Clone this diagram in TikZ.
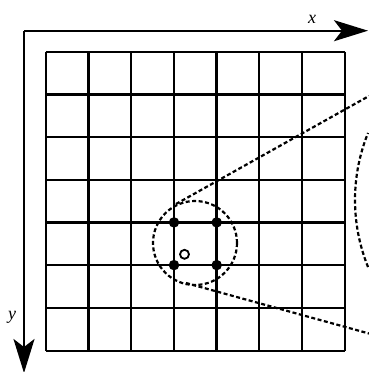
\documentclass[tikz,border=0pt]{standalone}
\usepackage{fontspec}
\setmainfont{Liberation Serif}
\usetikzlibrary{arrows.meta}
\begin{document}
\begin{tikzpicture}[x=1pt,y=-1pt,
  gridline/.style={line width=2.2pt},
  axis/.style={line width=2.2pt,-{Stealth[length=34pt,width=21pt,inset=8pt]}},
  dashline/.style={line width=2.2pt,dash pattern=on 4pt off 2.5pt},
  dot/.style={circle,fill=black,inner sep=0pt,minimum size=10.5pt},
  hole/.style={circle,draw=black,line width=1.8pt,fill=white,inner sep=0pt,minimum size=9pt},
  lbl/.style={font=\itshape\fontsize{18}{18}\selectfont,inner sep=0pt}]
\useasboundingbox (0,0) rectangle (369,372);
% grid
\foreach \i in {0,...,7}{
  \draw[gridline] (45.7+42.7*\i,51.7) -- (45.7+42.7*\i,350.6);
  \draw[gridline] (45.7,51.7+42.7*\i) -- (344.6,51.7+42.7*\i);
}
% axes
\coordinate (O) at (24,30.7);
\coordinate (X) at (368,30.7);
\coordinate (Y) at (24,373);
\draw[axis] (O) -- (X);
\draw[axis] (O) -- (Y);
\node[lbl] (xl) at (312,19) {x};
\node[lbl] (yl) at (12,317) {y};
% zoom region
\coordinate (C) at (195,243);
\draw[dashline] (C) circle (42);
\coordinate (U0) at (176,204);
\coordinate (U1) at (369,96);
\coordinate (L0) at (186,283);
\coordinate (L1) at (369,333.5);
\draw[dashline] (U0) -- (U1);
\draw[dashline] (L0) -- (L1);
\coordinate (BC) at (534,200);
\draw[dashline] (BC) ++(158:179) arc[start angle=158,end angle=202,radius=179];
% points
\node[dot] (p1) at (174.0,222.4) {};
\node[dot] (p2) at (216.7,222.4) {};
\node[dot] (p3) at (174.0,265.1) {};
\node[dot] (p4) at (216.7,265.1) {};
\node[hole] (q) at (184.5,254.3) {};
\end{tikzpicture}
\end{document}
